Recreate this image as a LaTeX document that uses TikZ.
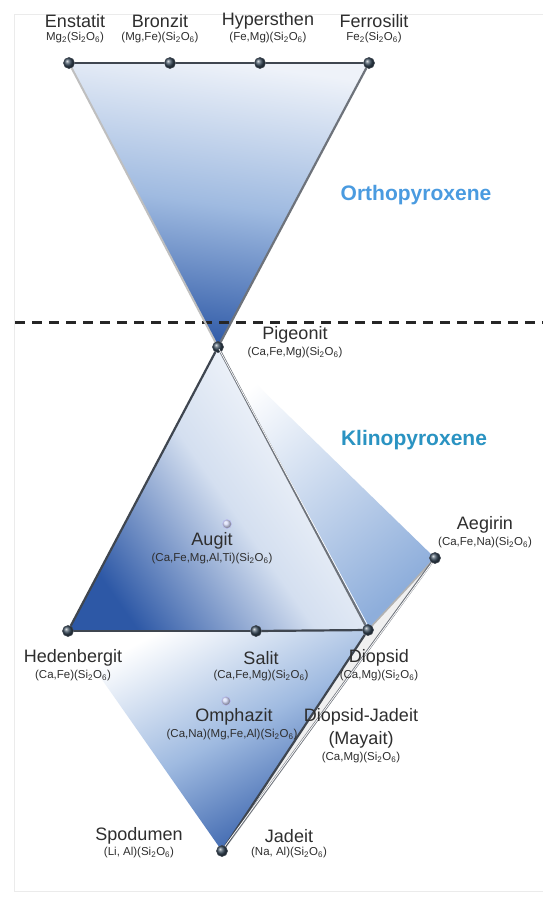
\documentclass[tikz,border=0pt]{standalone}
\usepackage{fontspec}
\setmainfont{Liberation Sans}
\usetikzlibrary{calc}
\definecolor{deepblue}{HTML}{2D58A6}
\definecolor{paleblue}{HTML}{EEF2F9}
\definecolor{lightblue}{HTML}{C9D7EC}
\definecolor{midblue}{HTML}{8EAEDB}
\definecolor{txt}{HTML}{2E2E2E}
\definecolor{orthoc}{HTML}{4A9BE0}
\definecolor{klinoc}{HTML}{2A93C2}
\definecolor{edgec}{HTML}{6E737B}
\definecolor{darkedge}{HTML}{3F4650}
\definecolor{ballc}{HTML}{3B4D5E}
\tikzset{
  sphere/.style={circle, shade, ball color=ballc, draw=darkedge, line width=0.6pt, minimum size=11pt, inner sep=0pt},
  faintsphere/.style={circle, shade, ball color=blue!12, draw=blue!25, line width=0.5pt, minimum size=9pt, inner sep=0pt, opacity=0.8},
  mname/.style={text=txt, font=\fontsize{18}{18}\selectfont, inner sep=0pt},
  mform/.style={text=txt, font=\fontsize{11.5}{12}\selectfont, inner sep=0pt},
  grp/.style={font=\bfseries\fontsize{21}{21}\selectfont, inner sep=0pt},
  edge/.style={draw=edgec, line width=2.2pt},
  dedge/.style={draw=darkedge, line width=2.2pt},
}
\newcommand{\sio}{(Si\textsubscript{2}O\textsubscript{6})}
\begin{document}
\begin{tikzpicture}[x=1pt, y=-1pt]
\useasboundingbox (0,0) rectangle (543,897);
\fill[white] (0,0) rectangle (543,897);
\draw[black!8, line width=0.8pt] (543,14) -- (14,14) -- (14,891) -- (543,891);

% points
\coordinate (pEn) at (69,63);
\coordinate (pBr) at (170,63);
\coordinate (pHy) at (260,63);
\coordinate (pFe) at (369,63);
\coordinate (pPi) at (218,347);
\coordinate (pHe) at (68,631);
\coordinate (pSa) at (256,631);
\coordinate (pDi) at (368,630);
\coordinate (pAe) at (435,558);
\coordinate (pJa) at (222,851);
\coordinate (pAu) at (227,524);
\coordinate (pOm) at (226,701);

% shaded faces
\shade[top color=paleblue, bottom color=deepblue, middle color=midblue!85!white, shading angle=-8] (pEn) -- (pFe) -- (pPi) -- cycle;
\shade[top color=white, bottom color=midblue, shading angle=40] (pPi) -- (pAe) -- (pDi) -- cycle;
\shade[top color=white, bottom color=deepblue, middle color=lightblue!80!white, shading angle=-55] (pPi) -- (pDi) -- (pHe) -- cycle;
\shade[top color=white, bottom color=deepblue, middle color=midblue!85!white, shading angle=28] (pHe) -- (pDi) -- (pJa) -- cycle;
\fill[black!6] (pDi) -- (pAe) -- ($(pJa)+(2,0)$) -- cycle;

% dashed separator
\coordinate (dL) at (15,322);
\coordinate (dR) at (543,322);
\draw[black!85, line width=3pt, dash pattern=on 10pt off 7pt] (dL) -- (dR);

% spheres
\node[sphere] (en) at (pEn) {};
\node[sphere] (br) at (pBr) {};
\node[sphere] (hy) at (pHy) {};
\node[sphere] (fe) at (pFe) {};
\node[sphere] (pi) at (pPi) {};
\node[sphere] (he) at (pHe) {};
\node[sphere] (sa) at (pSa) {};
\node[sphere] (di) at (pDi) {};
\node[sphere] (ae) at (pAe) {};
\node[sphere] (ja) at (pJa) {};
\node[faintsphere] (au) at (pAu) {};
\node[faintsphere] (om) at (pOm) {};

% edges
\draw[dedge] (en) -- (br);
\draw[dedge] (br) -- (hy);
\draw[dedge] (hy) -- (fe);
\draw[draw=black!25, line width=2pt] (en) -- (pi);
\draw[edge] (fe) -- (pi);
\draw[dedge] (pi) -- (he);
\draw[edge] (pi) -- (di);
\draw[draw=white, line width=0.7pt] ($(pPi)+(1,2)$) -- ($(pDi)+(-1,-6)$);
\draw[dedge] (he) -- (sa);
\draw[dedge] (sa) -- (di);
\draw[draw=black!30, line width=1.6pt] (di) -- (ae);
\draw[edge] (ae) -- (ja);
\draw[dedge] (di) -- (ja);
\draw[draw=white, line width=0.8pt] ($(pAe)+(-3,5)$) -- ($(pJa)+(3,-5)$);

% labels
\node[mname] (enL) at (75,21) {Enstatit};
\node[mform] (enF) at (75,38) {Mg\textsubscript{2}\sio};
\node[mname] (brL) at (160,21) {Bronzit};
\node[mform] (brF) at (160,38) {(Mg,Fe)\sio};
\node[mname] (hyL) at (268,21) {Hypersthen};
\node[mform] (hyF) at (268,38) {(Fe,Mg)\sio};
\node[mname] (feL) at (374,21) {Ferrosilit};
\node[mform] (feF) at (374,38) {Fe\textsubscript{2}\sio};

\node[grp, text=orthoc] (ortho) at (416,195) {Orthopyroxene};
\node[grp, text=klinoc] (klino) at (414,440) {Klinopyroxene};

\node[mname] (piL) at (295,335) {Pigeonit};
\node[mform] (piF) at (295,353) {(Ca,Fe,Mg)\sio};
\node[mname] (auL) at (212,541) {Augit};
\node[mform] (auF) at (212,559) {(Ca,Fe,Mg,Al,Ti)\sio};
\node[mname] (aeL) at (485,525) {Aegirin};
\node[mform] (aeF) at (485,543) {(Ca,Fe,Na)\sio};
\node[mname] (heL) at (73,658) {Hedenbergit};
\node[mform] (heF) at (73,676) {(Ca,Fe)\sio};
\node[mname] (saL) at (261,658) {Salit};
\node[mform] (saF) at (261,676) {(Ca,Fe,Mg)\sio};
\node[mname] (diL) at (379,658) {Diopsid};
\node[mform] (diF) at (379,676) {(Ca,Mg)\sio};
\node[mname] (omL) at (234,717) {Omphazit};
\node[mform] (omF) at (232,735) {(Ca,Na)(Mg,Fe,Al)\sio};
\node[mname] (djL) at (361,717) {Diopsid-Jadeit};
\node[mname] (djM) at (361,740) {(Mayait)};
\node[mform] (djF) at (361,758) {(Ca,Mg)\sio};
\node[mname] (spL) at (139,836) {Spodumen};
\node[mform] (spF) at (139,853) {(Li, Al)\sio};
\node[mname] (jaL) at (289,836) {Jadeit};
\node[mform] (jaF) at (289,853) {(Na, Al)\sio};
\end{tikzpicture}
\end{document}
